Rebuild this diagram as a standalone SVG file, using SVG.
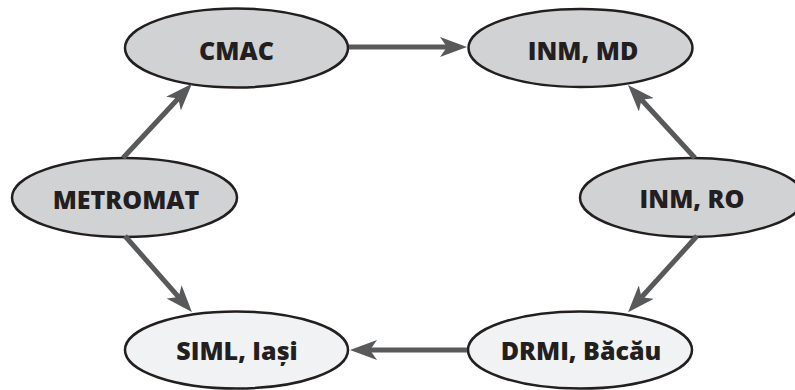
<svg xmlns="http://www.w3.org/2000/svg" width="795" height="390" viewBox="0 0 795 390">
<style>
.node ellipse{stroke:#231f20;stroke-width:2.5}
.dark ellipse{fill:#d1d2d4}
.light ellipse{fill:#f1f2f3}
.node text{font-family:"Open Sans","Liberation Sans",sans-serif;font-weight:800;font-size:25px;fill:#231f20;text-anchor:middle}
.conn{stroke:#58595b;stroke-width:5;fill:none;marker-end:url(#arr)}
</style>
<defs>
<marker id="arr" markerUnits="userSpaceOnUse" viewBox="0 -10 27 20" markerWidth="27" markerHeight="20" refX="7" refY="0" orient="auto">
<path d="M0,-10 L27,0 L0,10 L7,0 Z" fill="#58595b"/>
</marker>
</defs>
<rect width="795" height="390" fill="#ffffff"/>
<g id="nodes">
<g id="cmac" class="node dark"><ellipse cx="236.5" cy="48" rx="111.5" ry="39.5"/><text x="236.5" y="60">CMAC</text></g>
<g id="inm-md" class="node dark"><ellipse cx="580.5" cy="48" rx="112" ry="39"/><text x="583" y="60">INM, MD</text></g>
<g id="metromat" class="node dark"><ellipse cx="124.5" cy="197.5" rx="112.5" ry="39.5"/><text x="126" y="209">METROMAT</text></g>
<g id="inm-ro" class="node dark"><ellipse cx="692" cy="197.5" rx="112" ry="39.5"/><text x="692" y="208">INM, RO</text></g>
<g id="siml" class="node light"><ellipse cx="236.5" cy="350" rx="111.5" ry="38.5"/><text x="237" y="360">SIML, Iași</text></g>
<g id="drmi" class="node light"><ellipse cx="580" cy="350" rx="112" ry="38.5"/><text x="581" y="360">DRMI, Băcău</text></g>
</g>
<g id="connectors">
<path class="conn" d="M349,47 L447,47"/>
<path class="conn" d="M123,158 L178.3,98.5"/>
<path class="conn" d="M125,236 L178.7,297.1"/>
<path class="conn" d="M695,158 L641.5,99.7"/>
<path class="conn" d="M697,236 L641.5,297.3"/>
<path class="conn" d="M467,350 L370,350"/>
</g>
</svg>
